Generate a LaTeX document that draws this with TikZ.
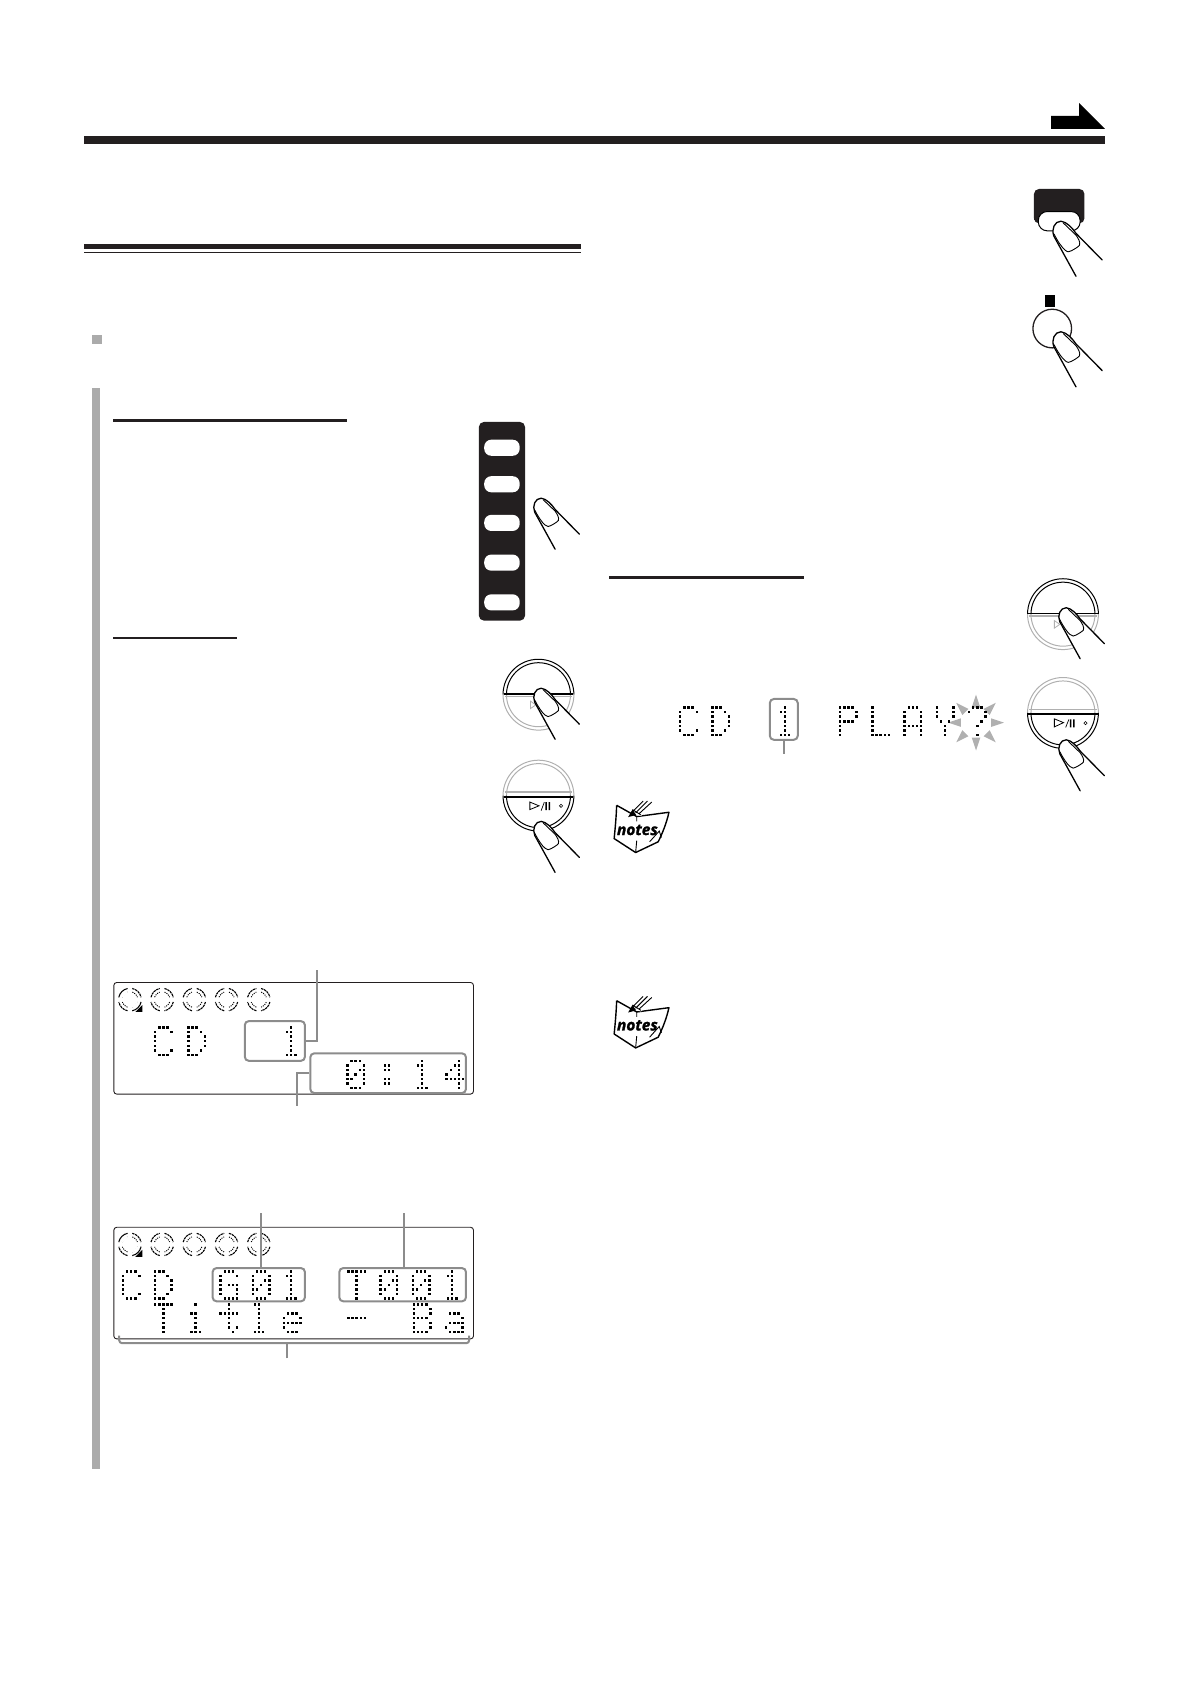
\documentclass[tikz,border=0pt]{standalone}
\usepackage{fontspec}
\setsansfont{Open Sans}
\newfontfamily\notesfont[FakeBold=1.6]{Open Sans}
\usetikzlibrary{fit,calc}
\definecolor{ink}{HTML}{231F20}
\definecolor{leader}{HTML}{8C8C8C}
\definecolor{barg}{HTML}{ABABAB}
\definecolor{ringg}{HTML}{B0B0B0}
\newcount\dmcnt
\def\dmparse#1{\ifx#1;\let\dmnext\relax\else\if#11\pgfmathsetmacro\dmpx{\dmX+1.5+\the\dmcnt*3.85}\fill[black] (\dmpx-1.15,\dmYY-1.15) rectangle ++(2.3,2.3);\fi\advance\dmcnt by 1 \let\dmnext\dmparse\fi\dmnext}
\newcommand{\dmglyph}[3]{\def\dmX{#1}\foreach \r [count=\ri from 0] in #3 {\pgfmathsetmacro\dmYY{#2+\ri*4.25}\dmcnt=0 \expandafter\dmparse\r;}}
\def\gC{01110,10001,10000,10000,10000,10001,01110}
\def\gD{11100,10010,10001,10001,10001,10010,11100}
\def\gOne{00100,01100,00100,00100,00100,00100,01110}
\def\gZero{01110,10001,10011,10101,11001,10001,01110}
\def\gColon{00000,01100,01100,00000,01100,01100,00000}
\def\gFour{00010,00110,01010,10010,11111,00010,00010}
\def\gG{01110,10001,10000,10111,10001,10001,01111}
\def\gT{11111,00100,00100,00100,00100,00100,00100}
\def\gi{00100,00000,01100,00100,00100,00100,01110}
\def\gt{00100,00100,11111,00100,00100,00101,00010}
\def\gl{01100,00100,00100,00100,00100,00100,01110}
\def\ge{00000,00000,01110,10001,11111,10000,01110}
\def\gDash{00000,00000,00000,11111,00000,00000,00000}
\def\gB{11110,10001,10001,11110,10001,10001,11110}
\def\ga{00000,00000,01110,00001,01111,10001,01111}
\def\gP{11110,10001,10001,11110,10000,10000,10000}
\def\gL{10000,10000,10000,10000,10000,10000,11111}
\def\gA{01110,10001,10001,10001,11111,10001,10001}
\def\gY{10001,10001,10001,01010,00100,00100,00100}
\def\gQ{01110,10001,00001,00010,00100,00000,00100}
% finger: tip at (#1,#2), scale #3
\newcommand{\fingerat}[3]{\begin{scope}[shift={(#1,#2)},scale=#3]
 \fill[white] (14,47.5) -- (-5,13) .. controls (-7.5,7) and (-4.5,0) .. (1,0) .. controls (6,.5) and (11,6) .. (14,10.5) -- (36.6,33.5) -- cycle;
 \draw[line width=1.3pt,line cap=round] (14,47.5) -- (-5,13) .. controls (-7.5,7) and (-4.5,0) .. (1,0) .. controls (6,.5) and (11,6) .. (14,10.5) -- (36.6,33.5);
 \draw[line width=.9pt] (-5,11) .. controls (-2,17) and (2,23) .. (4.7,25) .. controls (7,27) and (8,26.5) .. (10,25.5) .. controls (13,24) and (16,22) .. (17,20.8) .. controls (18,18) and (16,15) .. (14,12) -- (3,1.5);
 \end{scope}}
% knob: #3 upper half colour, #4 lower half colour
\newcommand{\knobat}[4]{\begin{scope}[shift={(#1,#2)}]
 \draw[#3,line width=1pt] (33,0) arc[start angle=0,end angle=-180,radius=33];
 \draw[#3,line width=1pt] (29.8,0) arc[start angle=0,end angle=-180,radius=29.8];
 \draw[#4,line width=1pt] (33,0) arc[start angle=0,end angle=180,radius=33];
 \draw[#4,line width=1pt] (29.8,0) arc[start angle=0,end angle=180,radius=29.8];
 \end{scope}}
% display ring
\newcommand{\ringat}[3]{\begin{scope}[shift={(#1,#2)}]
 \foreach \a in {0,90,180,270} {
  \draw[line width=1.1pt,dash pattern=on 2.4pt off .7pt] (\a+12:10.6) arc[start angle=\a+12,end angle=\a+78,radius=10.6];
  \draw[line width=.9pt,dash pattern=on 1.1pt off 1.1pt] (\a+18:7.4) arc[start angle=\a+18,end angle=\a+72,radius=7.4];
 }
 \ifnum#3=1
 \draw[white,line width=2pt] (-102:10.6) arc[start angle=-102,end angle=-168,radius=10.6];
 \draw[white,line width=2pt] (-108:7.4) arc[start angle=-108,end angle=-162,radius=7.4];
 \draw[line width=1pt] (-102:10.6) arc[start angle=-102,end angle=-168,radius=10.6];
 \draw[white,line width=2pt] (18:7.4) arc[start angle=18,end angle=72,radius=7.4];
 \draw[white,line width=2pt] (12:10.6) arc[start angle=12,end angle=78,radius=10.6];
 \draw[line width=1pt] (12:10.6) arc[start angle=12,end angle=78,radius=10.6];
 \fill[black] (11.5,5) -- (11.5,11.5) -- (5,11.5) -- cycle;
 \fi
 \end{scope}}
\newcommand{\ringrow}[1]{\ringat{121}{#1}{1}\ringat{151}{#1}{0}\ringat{181}{#1}{0}\ringat{211}{#1}{0}\ringat{241}{#1}{0}}
% notes book
\newcommand{\notesat}[3]{\begin{scope}[shift={(#1,#2)}]
 \draw[line width=1.4pt,line join=round] (4.3,3) -- (23,13.5) -- (53,9.5) .. controls (51,19) and (47,29) .. (43,37) -- (22,47) -- (2,34) .. controls (3,24) and (4,13) .. (4.3,3);
 \draw[line width=.9pt] (23,13.5) -- (23,18) (23,36) -- (22,47);
 \fill[white] (18,11) -- (31,-2) -- (39,0) -- (27,13) -- cycle;
 \draw[line width=.9pt] (19,9) -- (29,-1) (22,10) -- (33,-1) (25,11) -- (37,0) (27,12) -- (19,7);
 \fill[black] (15,14) -- (19,7) -- (22.5,12) -- cycle;
 \draw[line width=.9pt] (35,37) -- (44,27) -- (46,33);
 \node[inner sep=0,font=\notesfont\bfseries\itshape\fontsize{15.5}{15.5}\selectfont] (#3) at (23.6,26) {notes};
 \end{scope}}
\begin{document}
\begin{tikzpicture}[x=1.0737pt,y=-1.0737pt,
 lcdpanel/.style={draw=ink,line width=.9pt,rounded corners=3pt},
 lcdbox/.style={draw=leader,line width=2pt,rounded corners=4pt,inner sep=0pt},
 leadline/.style={draw=leader,line width=2pt}]
\useasboundingbox (0,0) rectangle (1106.45,1568.4);
% header
\fill[ink] (78,127) rectangle (1029,134);
\fill[black] (979,108) -- (1005,108) -- (1005,96) -- (1029,120) -- (979,120) -- cycle;
% left section rule
\fill[ink] (78,227) rectangle (541,232);
\fill[ink] (78,235) rectangle (541,236);
\fill[barg] (86,312) rectangle (95,320);
\fill[barg] (86,361) rectangle (93,1368);
\fill[ink] (105,390) rectangle (323,393);
\fill[ink] (105,593) rectangle (221,595);
\fill[ink] (567,536) rectangle (749,539);
% selector strip
\fill[ink,rounded corners=5pt] (446,393) rectangle (489,578);
\foreach \y in {417,451,487,524,561} \fill[white,rounded corners=7pt] (451,\y-7.5) rectangle (484,\y+7.5);
\fingerat{503}{464}{1}
% knobs left
\knobat{501.5}{647}{black}{ringg}
\fill[ringg] (470,648) rectangle (533,649.5);
\fill[black] (469,645.5) rectangle (534,647.3);
\draw[ringg,line width=.8pt] (494,653) -- (494,660) -- (499,656.5) -- cycle;
\fingerat{503}{641}{1}
\knobat{501.5}{741}{ringg}{black}
\fill[ringg] (470,737) rectangle (533,738.5);
\fill[black] (469,741) rectangle (534,743);
\draw[black,line width=.8pt] (493.5,747) -- (493.5,754) -- (502,750.5) -- cycle;
\draw[black,line width=.7pt] (504,755) -- (507,747);
\fill[black] (508,747) rectangle (509.3,754.5) (511,747) rectangle (512.3,754.5);
\draw[black,line width=.6pt] (522.5,749) -- (524,750.5) -- (522.5,752) -- (521,750.5) -- cycle;
\fingerat{503}{765}{1}
% right buttons
\fill[ink,rounded corners=5pt] (963,176) rectangle (1010,208);
\fill[white,rounded corners=9pt,draw=black,line width=1pt] (967,197) rectangle (1006,215);
\fill[ink] (963,190) rectangle (966.5,205);
\fingerat{987}{206}{1.08}
\fill[black] (973,275) rectangle (983,286);
\draw[ink,line width=1.3pt] (980,306) circle[radius=18];
\fingerat{987}{309}{1.08}
\knobat{990}{572}{black}{ringg}
\fill[ringg] (958.5,573) rectangle (1021.5,574.5);
\fill[black] (957.5,570.5) rectangle (1022.5,572.3);
\draw[ringg,line width=.8pt] (982,578) -- (982,585) -- (987,581.5) -- cycle;
\fingerat{992}{566}{1}
\knobat{990}{664}{ringg}{black}
\fill[ringg] (958.5,660) rectangle (1021.5,661.5);
\fill[black] (957.5,664) rectangle (1022.5,666);
\draw[black,line width=.8pt] (982,669.5) -- (982,677) -- (990.5,673) -- cycle;
\draw[black,line width=.7pt] (992.5,677.5) -- (995.5,670);
\fill[black] (996.5,670) rectangle (997.8,677.5) (999.5,670) rectangle (1000.8,677.5);
\draw[black,line width=.6pt] (1011,672) -- (1012.5,673.5) -- (1011,675) -- (1009.5,673.5) -- cycle;
\fingerat{992}{689}{1}
% panel 1
\draw[lcdpanel] (106,915) rectangle (441,1019);
\ringrow{931}
\dmglyph{143}{957}{\gC}\dmglyph{174}{957}{\gD}\dmglyph{262}{957}{\gOne}
\dmglyph{322}{988}{\gZero}\dmglyph{353}{988}{\gColon}\dmglyph{384}{988}{\gOne}\dmglyph{414.5}{988}{\gFour}
\node[lcdbox,fit={(228,951)(284,988)}] (timebox) {};
\node[lcdbox,fit={(289,981)(434,1018)}] (clockbox) {};
\coordinate (leadA) at (295,903);
\coordinate (leadB) at (277,1030);
\draw[leadline] (timebox.east) -| (leadA);
\draw[leadline] (clockbox.west) -| (leadB);
% panel 2
\draw[lcdpanel] (106,1143) rectangle (441,1247);
\ringrow{1159}
\dmglyph{113}{1184}{\gC}\dmglyph{143}{1184}{\gD}\dmglyph{204}{1184}{\gG}\dmglyph{234}{1184}{\gZero}\dmglyph{262}{1184}{\gOne}
\dmglyph{323}{1184}{\gT}\dmglyph{353}{1184}{\gZero}\dmglyph{383}{1184}{\gZero}\dmglyph{412}{1184}{\gOne}
\dmglyph{143}{1215}{\gT}\dmglyph{173}{1215}{\gi}\dmglyph{204}{1215}{\gt}\dmglyph{232}{1215}{\gl}\dmglyph{263}{1215}{\ge}
\dmglyph{323}{1215}{\gDash}\dmglyph{384}{1215}{\gB}\dmglyph{414}{1215}{\ga}
\node[lcdbox,fit={(198,1181)(284,1212)}] (groupbox) {};
\node[lcdbox,fit={(316,1181)(434,1212)}] (trackbox) {};
\coordinate (leadC) at (243,1130);
\coordinate (leadD) at (376,1130);
\draw[leadline] (leadC) -- (leadC |- groupbox.north);
\draw[leadline] (leadD) -- (leadD |- trackbox.north);
\draw[leader,line width=2pt,rounded corners=3pt] (111,1244) -- (111,1251) -- (437,1251) -- (437,1244);
\coordinate (leadE) at (267,1265);
\draw[leadline] (leadE) -- (267,1251);
% right display
\foreach \a in {0,45,...,315} \fill[ringg,rotate around={\a:(909,673)}] (909+14,673-4) -- (909+26,673) -- (909+14,673+4) -- cycle;
\dmglyph{632}{659}{\gC}\dmglyph{662}{659}{\gD}\dmglyph{722}{659}{\gOne}
\dmglyph{781}{659}{\gP}\dmglyph{811}{659}{\gL}\dmglyph{841}{659}{\gA}\dmglyph{871}{659}{\gY}\dmglyph{901}{659}{\gQ}
\node[lcdbox,fit={(717,651)(743,689)}] (discbox) {};
\coordinate (leadF) at (730,702);
\draw[leadline] (discbox.south) -- (leadF);
% notes
\notesat{570}{747}{notesA}
\notesat{570}{929}{notesB}
\end{tikzpicture}
\end{document}
